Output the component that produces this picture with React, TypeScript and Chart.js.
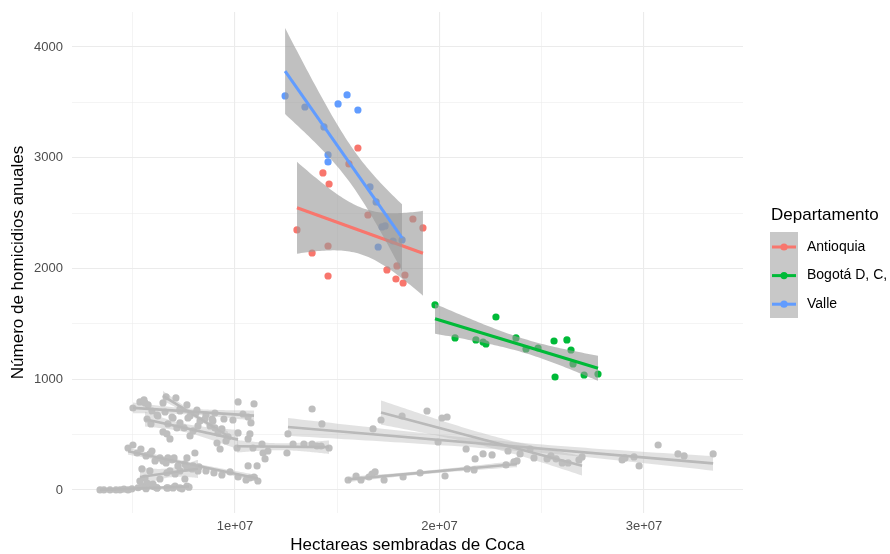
import React, { useEffect, useRef } from "react";
import { Chart, registerables } from "chart.js";
Chart.register(...registerables);

const FONT = '"Liberation Sans", Arial, Helvetica, sans-serif';

// ---- Departamentos destacados ----
const departamentos = ["Antioquia", "Bogotá D, C,", "Valle"];
const colores = ["#F8766D", "#00BA38", "#619CFF"];

const antioquiaX = [16.01e6, 15.57e6, 14.3e6, 14.6e6, 13.03e6, 13.77e6, 14.55e6, 14.55e6, 16.5e6, 18.7e6, 19.19e6, 17.43e6, 17.92e6, 17.87e6, 18.31e6, 18.22e6];
const antioquiaY = [3088, 2944, 2863, 2763, 2348, 2140, 2203, 1932, 2483, 2447, 2366, 1987, 2023, 1905, 1941, 1869];

const bogotaX = [19.78e6, 20.76e6, 22.76e6, 21.78e6, 22.13e6, 22.27e6, 23.74e6, 24.23e6, 24.82e6, 25.6e6, 26.23e6, 26.43e6, 26.53e6, 25.65e6, 27.07e6, 27.75e6];
const bogotaY = [1671, 1373, 1562, 1355, 1336, 1318, 1373, 1273, 1282, 1345, 1355, 1264, 1138, 1020, 1038, 1047];

const valleX = [12.45e6, 13.42e6, 14.35e6, 15.04e6, 15.48e6, 16.01e6, 14.55e6, 14.55e6, 16.6e6, 16.9e6, 17.19e6, 17.34e6, 17.73e6, 18.17e6, 17.0e6];
const valleY = [3558, 3458, 3278, 3486, 3567, 3431, 3025, 2962, 2736, 2601, 2375, 2384, 2248, 2258, 2194];

// ---- Otros departamentos (gris) ----
const otros1X = [3.4e6, 3.59e6, 3.89e6, 4.18e6, 4.38e6, 4.57e6, 4.77e6, 4.96e6, 5.26e6, 5.45e6, 5.65e6, 5.84e6, 6.04e6, 6.19e6, 6.72e6, 7.07e6, 7.41e6, 7.75e6];
const otros1Y = [0, 0, 0, 0, 0, 8, 0, 10, 20, 35, 12, 45, 28, 18, 18, 36, 10, 25];

const otros2X = [6.48e6, 6.63e6, 7.11e6, 7.31e6, 7.65e6, 7.8e6, 8.09e6, 8.29e6, 8.53e6, 8.78e6, 8.92e6, 9.17e6, 9.36e6, 9.56e6, 9.66e6];
const otros2Y = [786, 840, 831, 731, 768, 668, 695, 623, 641, 578, 623, 515, 551, 442, 479];

const otros3X = [5.01e6, 5.35e6, 5.55e6, 5.75e6, 5.94e6, 6.23e6, 6.58e6, 6.92e6, 7.31e6, 7.7e6, 8.14e6, 8.58e6, 9.02e6, 9.46e6, 9.9e6, 10.15e6, 10.39e6, 10.64e6, 10.78e6, 10.93e6];
const otros3Y = [740, 795, 813, 768, 713, 668, 704, 659, 713, 650, 722, 677, 695, 641, 632, 795, 686, 659, 605, 777];

const otros4X = [4.77e6, 5.01e6, 5.21e6, 5.4e6, 5.65e6, 5.84e6, 6.09e6, 6.33e6, 6.63e6, 6.92e6, 7.21e6, 7.55e6, 7.9e6, 8.24e6, 8.58e6, 8.97e6, 9.36e6, 9.76e6, 10.15e6, 10.54e6, 10.93e6, 11.12e6, 10.64e6, 11.08e6, 10.73e6];
const otros4Y = [379, 406, 334, 370, 307, 325, 262, 289, 244, 271, 217, 235, 190, 208, 172, 154, 135, 163, 117, 90, 117, 81, 217, 217, 108];

const otros5X = [5.6e6, 5.7e6, 5.89e6, 6.19e6, 6.48e6, 6.67e6, 6.72e6, 6.82e6, 6.97e6, 7.16e6, 7.31e6, 7.51e6, 7.8e6, 7.95e6, 8.19e6, 8.88e6, 9.02e6, 9.12e6, 9.27e6, 10.15e6];
const otros5Y = [786, 641, 596, 677, 524, 506, 596, 461, 650, 560, 605, 560, 488, 533, 578, 641, 560, 424, 370, 515];

const otros6X = [5.45e6, 5.6e6, 5.35e6, 5.7e6, 5.99e6, 6.19e6, 6.67e6, 6.82e6, 7.07e6, 7.31e6, 7.65e6, 7.95e6, 8.19e6, 6.67e6, 6.97e6, 7.31e6, 7.65e6, 6.33e6, 7.55e6, 5.84e6, 5.94e6, 6.48e6, 6.72e6, 7.02e6, 7.65e6, 8.04e6];
const otros6Y = [190, 108, 81, 63, 54, 18, 154, 172, 144, 172, 199, 217, 172, 18, 18, 18, 36, 99, 99, 172, 352, 262, 289, 289, 289, 334];

const otros7X = [10.1e6, 10.64e6, 10.73e6, 10.88e6, 11.32e6, 11.37e6, 11.47e6, 11.61e6, 12.54e6, 12.84e6, 13.37e6, 13.77e6, 14.01e6, 14.21e6, 14.6e6];
const otros7Y = [379, 461, 506, 379, 415, 334, 280, 352, 334, 415, 415, 415, 397, 397, 379];

const otros8X = [12.59e6, 13.77e6, 14.25e6, 16.75e6, 19.93e6, 22.13e6, 22.57e6, 23.35e6, 23.94e6, 24.43e6, 25.45e6, 28.93e6, 29.07e6, 29.51e6, 29.76e6, 30.69e6, 31.66e6, 31.96e6, 33.38e6];
const otros8Y = [506, 731, 596, 551, 433, 325, 316, 352, 325, 370, 307, 271, 289, 298, 217, 406, 325, 307, 325];

const otros9X = [17.14e6, 18.17e6, 19.39e6, 20.12e6, 20.37e6, 21.3e6, 21.74e6, 24.62e6, 25.26e6, 25.7e6, 26.0e6, 26.29e6, 26.82e6, 26.97e6];
const otros9Y = [632, 668, 713, 650, 659, 370, 280, 289, 280, 280, 244, 244, 271, 298];

const otros10X = [15.53e6, 15.92e6, 16.16e6, 16.55e6, 16.7e6, 16.85e6, 17.29e6, 18.22e6, 19.05e6, 20.27e6, 21.35e6, 21.69e6, 23.25e6, 23.64e6, 23.79e6];
const otros10Y = [90, 126, 90, 117, 144, 163, 90, 117, 154, 126, 190, 181, 226, 253, 262];

// ---- Ejes ----
const xMin = 2.03e6;
const xMax = 34.84e6;
const yMin = -208;
const yMax = 4316;
const xTickValues = [1e7, 2e7, 3e7];
const xTickLabels = ["1e+07", "2e+07", "3e+07"];
const xMinorValues = [5e6, 15e6, 25e6];
const yTickValues = [0, 1000, 2000, 3000, 4000];
const yTickLabels = ["0", "1000", "2000", "3000", "4000"];
const yMinorValues = [500, 1500, 2500, 3500];

const xTitle = "Hectareas sembradas de Coca";
const yTitle = "Número de homicidios anuales";
const legendTitle = "Departamento";

function tQuantile(df: number) {
  const z = 1.959964;
  const z3 = z ** 3, z5 = z ** 5, z7 = z ** 7;
  return (
    z +
    (z3 + z) / (4 * df) +
    (5 * z5 + 16 * z3 + 3 * z) / (96 * df * df) +
    (3 * z7 + 19 * z5 + 17 * z3 - 15 * z) / (384 * df ** 3)
  );
}

function fit(xs: number[], ys: number[]) {
  const n = xs.length;
  const mx = xs.reduce((a, b) => a + b, 0) / n;
  const my = ys.reduce((a, b) => a + b, 0) / n;
  let sxx = 0, sxy = 0;
  for (let i = 0; i < n; i++) {
    sxx += (xs[i] - mx) ** 2;
    sxy += (xs[i] - mx) * (ys[i] - my);
  }
  const b = sxy / sxx;
  const a = my - b * mx;
  let sse = 0;
  for (let i = 0; i < n; i++) sse += (ys[i] - a - b * xs[i]) ** 2;
  const s = Math.sqrt(sse / (n - 2));
  const t = tQuantile(n - 2);
  const lo = Math.min(...xs), hi = Math.max(...xs);
  const lower: { x: number; y: number }[] = [];
  const upper: { x: number; y: number }[] = [];
  const K = 60;
  for (let k = 0; k <= K; k++) {
    const x = lo + ((hi - lo) * k) / K;
    const yh = a + b * x;
    const se = s * Math.sqrt(1 / n + (x - mx) ** 2 / sxx);
    lower.push({ x, y: yh - t * se });
    upper.push({ x, y: yh + t * se });
  }
  const line = [
    { x: lo, y: a + b * lo },
    { x: hi, y: a + b * hi },
  ];
  return { lower, upper, line };
}

const pts = (xs: number[], ys: number[]) => xs.map((x, i) => ({ x, y: ys[i] }));

export default function App() {
  const ref = useRef<HTMLCanvasElement | null>(null);

  useEffect(() => {
    if (!ref.current) return;
    const greyGroups: [number[], number[]][] = [
      [otros1X, otros1Y],
      [otros2X, otros2Y],
      [otros3X, otros3Y],
      [otros4X, otros4Y],
      [otros5X, otros5Y],
      [otros6X, otros6Y],
      [otros7X, otros7Y],
      [otros8X, otros8Y],
      [otros9X, otros9Y],
      [otros10X, otros10Y],
    ];
    const colorGroups: [number[], number[]][] = [
      [antioquiaX, antioquiaY],
      [bogotaX, bogotaY],
      [valleX, valleY],
    ];

    const datasets: any[] = [];
    const greyPoint = "rgb(190,190,190)";
    for (const [xs, ys] of greyGroups) {
      datasets.push({
        data: pts(xs, ys),
        pointRadius: 3.6,
        pointBorderWidth: 0,
        pointBackgroundColor: greyPoint,
        showLine: false,
      });
    }
    for (const [xs, ys] of greyGroups) {
      const f = fit(xs, ys);
      datasets.push({ data: f.lower, showLine: true, borderWidth: 0, pointRadius: 0, fill: false, tension: 0 });
      datasets.push({
        data: f.upper,
        showLine: true,
        borderWidth: 0,
        pointRadius: 0,
        tension: 0,
        fill: "-1",
        backgroundColor: "rgba(190,190,190,0.45)",
      });
      datasets.push({
        data: f.line,
        showLine: true,
        borderWidth: 2.6,
        borderColor: "rgb(185,185,185)",
        pointRadius: 0,
        fill: false,
      });
    }
    colorGroups.forEach(([xs, ys], i) => {
      datasets.push({
        data: pts(xs, ys),
        pointRadius: 3.6,
        pointBorderWidth: 0,
        pointBackgroundColor: colores[i],
        showLine: false,
      });
    });
    colorGroups.forEach(([xs, ys], i) => {
      const f = fit(xs, ys);
      datasets.push({ data: f.lower, showLine: true, borderWidth: 0, pointRadius: 0, fill: false, tension: 0 });
      datasets.push({
        data: f.upper,
        showLine: true,
        borderWidth: 0,
        pointRadius: 0,
        tension: 0,
        fill: "-1",
        backgroundColor: "rgba(153,153,153,0.62)",
      });
      datasets.push({
        data: f.line,
        showLine: true,
        borderWidth: 3,
        borderColor: colores[i],
        pointRadius: 0,
        fill: false,
      });
    });
    datasets.forEach((d, i) => (d.order = -i));

    const xMajor = new Set(xTickValues);
    const yMajor = new Set(yTickValues);

    const decor = {
      id: "decor",
      afterDraw(chart: any) {
        const ctx = chart.ctx as CanvasRenderingContext2D;
        const area = chart.chartArea;
        ctx.save();
        ctx.fillStyle = "#000000";
        ctx.font = `17px ${FONT}`;
        ctx.textAlign = "center";
        ctx.textBaseline = "middle";
        ctx.fillText(xTitle, (area.left + area.right) / 2, 545);
        ctx.save();
        ctx.translate(18, (area.top + area.bottom) / 2);
        ctx.rotate(-Math.PI / 2);
        ctx.fillText(yTitle, 0, 0);
        ctx.restore();

        // legend
        ctx.textAlign = "left";
        ctx.font = `17px ${FONT}`;
        ctx.fillText(legendTitle, 771, 215);
        ctx.fillStyle = "rgb(200,200,200)";
        ctx.fillRect(770, 232, 28, 86);
        ctx.font = `14px ${FONT}`;
        departamentos.forEach((name, i) => {
          const y = 247 + i * 28.6;
          ctx.strokeStyle = colores[i];
          ctx.lineWidth = 3;
          ctx.beginPath();
          ctx.moveTo(772, y);
          ctx.lineTo(796, y);
          ctx.stroke();
          ctx.fillStyle = colores[i];
          ctx.beginPath();
          ctx.arc(784, y, 3.6, 0, Math.PI * 2);
          ctx.fill();
          ctx.fillStyle = "#000000";
          ctx.fillText(name, 807, y);
        });
        ctx.restore();
      },
    };

    const chart = new Chart(ref.current, {
      type: "scatter",
      data: { datasets },
      options: {
        animation: false,
        responsive: false,
        events: [],
        layout: { autoPadding: false, padding: { left: 0, right: 147, top: 12, bottom: 0 } },
        plugins: { legend: { display: false }, tooltip: { enabled: false } },
        scales: {
          x: {
            type: "linear",
            min: xMin,
            max: xMax,
            afterFit: (s: any) => {
              s.height = 41;
              s.paddingLeft = 0;
              s.paddingRight = 0;
            },
            afterBuildTicks: (s: any) => {
              s.ticks = [...xMinorValues, ...xTickValues].sort((a, b) => a - b).map((v) => ({ value: v }));
            },
            ticks: {
              autoSkip: false,
              maxRotation: 0,
              padding: 6,
              color: "#4D4D4D",
              font: { family: FONT, size: 13 },
              callback: (v: any) => {
                const i = xTickValues.indexOf(Number(v));
                return i >= 0 ? xTickLabels[i] : "";
              },
            },
            grid: {
              color: "#EBEBEB",
              drawTicks: false,
              lineWidth: (c: any) => (xMajor.has(c.tick?.value) ? 1.1 : 0.55),
            },
            border: { display: false },
          },
          y: {
            type: "linear",
            min: yMin,
            max: yMax,
            afterFit: (s: any) => {
              s.width = 72;
              s.paddingTop = 0;
              s.paddingBottom = 0;
            },
            afterBuildTicks: (s: any) => {
              s.ticks = [...yMinorValues, ...yTickValues].sort((a, b) => a - b).map((v) => ({ value: v }));
            },
            ticks: {
              autoSkip: false,
              padding: 9,
              color: "#4D4D4D",
              font: { family: FONT, size: 13 },
              callback: (v: any) => {
                const i = yTickValues.indexOf(Number(v));
                return i >= 0 ? yTickLabels[i] : "";
              },
            },
            grid: {
              color: "#EBEBEB",
              drawTicks: false,
              lineWidth: (c: any) => (yMajor.has(c.tick?.value) ? 1.1 : 0.55),
            },
            border: { display: false },
          },
        },
      },
      plugins: [decor],
    } as any);
    return () => chart.destroy();
  }, []);

  return (
    <div style={{ position: "absolute", left: 0, top: 0, width: 890, height: 554, background: "#fff" }}>
      <canvas ref={ref} width={890} height={554} style={{ width: 890, height: 554, display: "block" }} />
    </div>
  );
}
